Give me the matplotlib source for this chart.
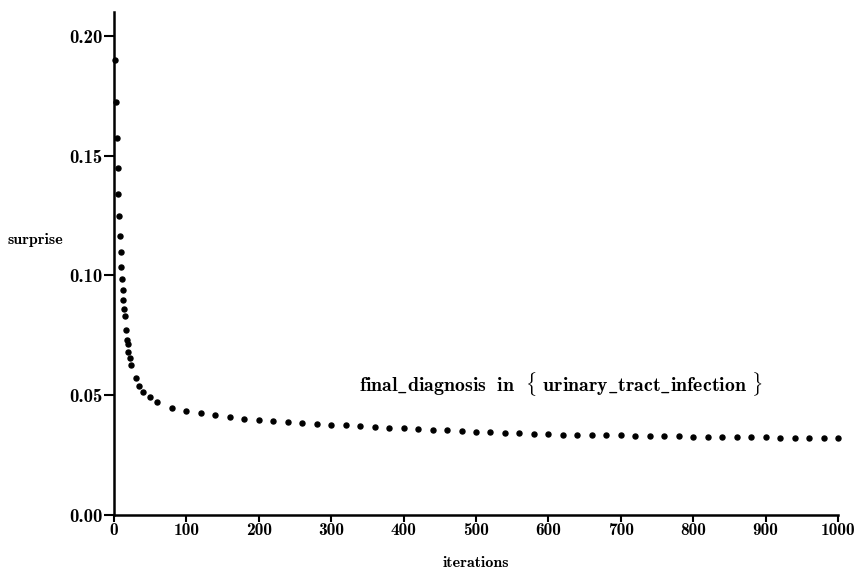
import matplotlib
matplotlib.use("Agg")
import matplotlib.pyplot as plt

iterations = [1, 3, 4, 5, 6, 7, 8, 9, 10, 11, 12, 13, 14, 15, 16, 18, 19, 20, 22, 24,
              30, 35, 40, 50, 60, 80, 100, 120, 140, 160, 180,
              200, 220, 240, 260, 280, 300, 320, 340, 360, 380, 400, 420, 440, 460, 480,
              500, 520, 540, 560, 580, 600, 620, 640, 660, 680, 700, 720, 740, 760, 780,
              800, 820, 840, 860, 880, 900, 920, 940, 960, 980, 1000]
surprise = [0.190, 0.1724, 0.1574, 0.1449, 0.1340, 0.1248, 0.1165, 0.1098, 0.1035, 0.0985,
            0.0939, 0.0898, 0.0860, 0.0831, 0.0772, 0.0731, 0.0714, 0.0681, 0.0656, 0.0626,
            0.0572, 0.0539, 0.0514, 0.0493, 0.0472, 0.0447, 0.0434, 0.0426, 0.0418, 0.0409, 0.0401,
            0.0397, 0.0393, 0.0389, 0.0385, 0.0381, 0.0377, 0.0374, 0.0371, 0.0368, 0.0365,
            0.0362, 0.0359, 0.0356, 0.0353, 0.0350, 0.0347, 0.0345, 0.0343, 0.0341, 0.0339,
            0.0337, 0.0336, 0.0335, 0.0334, 0.0333, 0.0332, 0.0331, 0.0330, 0.0329, 0.0328,
            0.0327, 0.0326, 0.0325, 0.0325, 0.0324, 0.0324, 0.0323, 0.0323, 0.0322, 0.0322, 0.0322]

xticks = [0, 100, 200, 300, 400, 500, 600, 700, 800, 900, 1000]
yticks = [0.00, 0.05, 0.10, 0.15, 0.20]
ytick_labels = ["0.00", "0.05", "0.10", "0.15", "0.20"]
annotation = r"$\mathbf{final\_diagnosis\ \ in\ \ \{\ urinary\_tract\_infection\ \}}$"

FONT = "cmb10"
plt.rcParams["font.family"] = [FONT, "DejaVu Serif"]
plt.rcParams["mathtext.fontset"] = "cm"

fig = plt.figure(figsize=(8.57, 5.72), dpi=100)
ax = fig.add_axes([114 / 857, 57 / 572, (838 - 114) / 857, (515 - 12) / 572])

ax.plot(iterations, surprise, linestyle="none", marker="o", ms=3.6, color="black",
        clip_on=False)

ax.set_xlim(0, 1000)
ax.set_ylim(0, 0.21)
ax.set_xticks(xticks)
ax.set_xticklabels([str(t) for t in xticks])
ax.set_yticks(yticks)
ax.set_yticklabels(ytick_labels)

for s in ["top", "right"]:
    ax.spines[s].set_visible(False)
for s in ["left", "bottom"]:
    ax.spines[s].set_linewidth(1.8)

ax.tick_params(axis="y", direction="out", length=7, width=1.5, labelsize=13.5, pad=1)
ax.tick_params(axis="x", direction="out", length=5, width=1.5, labelsize=12.5, pad=1)

ax.set_xlabel("iterations", fontsize=11.5, labelpad=13)
fig.text(8 / 857, 1 - 240 / 572, "surprise", fontsize=11.5, ha="left", va="center")

ax.text(338, 0.0547, annotation, fontsize=14.3, ha="left", va="center")

fig.savefig("out.png", dpi=100)
